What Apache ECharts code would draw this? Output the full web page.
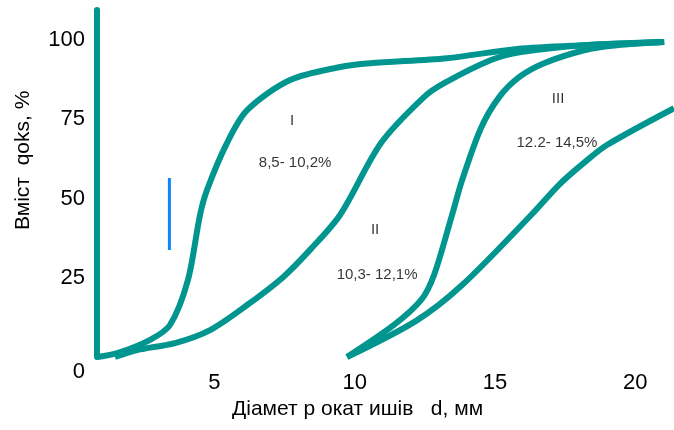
<!DOCTYPE html>
<html>
<head>
<meta charset="utf-8">
<script src="https://cdn.jsdelivr.net/npm/echarts@6/dist/echarts.min.js"></script>
<style>
  html, body { margin: 0; padding: 0; background: #fff; }
  #chart { width: 674px; height: 430px; }
</style>
</head>
<body>
<div id="chart"></div>
<script>
var xTicks = [5, 10, 15, 20];
var yTicks = [0, 25, 50, 75, 100];

// [diameter, content %]
var curveI = [[0.82,0],[1.57,1.3],[2.71,5.4],[3.42,10.1],[4.06,24.3],[4.49,44.8],[4.74,52.7],[5.45,67.5],[6.17,77.9],[7.70,87.4],[9.48,91.5],[10.55,92.7],[13.29,94.3],[15.79,97.2],[18.18,98.4],[21.03,99.4]];
var curveII = [[1.46,0],[2.25,2.2],[3.60,4.4],[4.85,8.5],[6.17,16.4],[7.45,25.2],[8.41,33.8],[9.48,44.8],[10.94,67.5],[12.47,82.0],[13.19,86.4],[14.86,93.7],[15.93,96.2],[18.18,98.4],[21.03,99.4]];
var curveIII = [[9.73,0],[11.40,10.1],[12.37,18.0],[12.83,25.9],[13.47,44.8],[13.83,55.8],[14.50,72.2],[15.15,82.0],[15.86,88.3],[16.75,92.7],[18.18,96.8],[19.35,98.4],[21.03,99.4]];
var curveIV = [[9.73,0],[12.19,11.4],[13.83,22.7],[16.29,44.8],[17.30,54.5],[18.20,61.5],[18.99,66.9],[21.38,78.5]];
var blueMark = [[3.40,56.5],[3.40,33.8]];

var notes = [
  { value: [7.77, 74.4], text: 'I' },
  { value: [7.88, 61.2], text: '8,5- 10,2%' },
  { value: [10.73, 40.1], text: 'II' },
  { value: [10.80, 25.9], text: '10,3- 12,1%' },
  { value: [17.25, 81.4], text: 'III' },
  { value: [17.21, 67.5], text: '12.2- 14,5%' }
];

var teal = '#00968f';
var font = "'Liberation Sans', Arial, sans-serif";

function curve(data) {
  return {
    type: 'line',
    data: data,
    smooth: 0.3,
    symbol: 'none',
    lineStyle: { color: teal, width: 6, cap: 'butt' },
    z: 2
  };
}

var chart = echarts.init(document.getElementById('chart'));
var option = {
  animation: false,
  grid: { left: 97, right: 0, top: 10, bottom: 73 },
  xAxis: {
    type: 'value',
    min: 0.82,
    max: 21.38,
    axisLine: { show: false },
    axisTick: { show: false },
    splitLine: { show: false },
    axisLabel: {
      customValues: xTicks,
      margin: 15,
      color: '#000',
      fontSize: 22,
      fontFamily: font
    }
  },
  yAxis: {
    type: 'value',
    min: 0,
    max: 109.5,
    axisLine: { show: true, lineStyle: { color: teal, width: 6 } },
    axisTick: { show: false },
    splitLine: { show: false },
    axisLabel: {
      customValues: yTicks,
      margin: 12,
      color: '#000',
      fontSize: 22,
      fontFamily: font,
      formatter: function (v) { return v === 0 ? '{z|0}' : String(v); },
      rich: { z: { fontSize: 22, fontFamily: font, color: '#000', padding: [30, 0, 0, 0] } }
    }
  },
  graphic: [
    {
      type: 'text',
      left: 232,
      top: 399,
      style: { text: 'Діамет р окат ишів   d, мм', fill: '#000', font: '21px ' + font }
    },
    {
      type: 'text',
      x: 13,
      y: 230,
      rotation: Math.PI / 2,
      style: { text: 'Вміст  qoks, %', fill: '#000', font: '21px ' + font }
    }
  ],
  series: [
    curve(curveI),
    curve(curveII),
    curve(curveIII),
    curve(curveIV),
    {
      type: 'line',
      data: blueMark,
      symbol: 'none',
      lineStyle: { color: '#0a84ff', width: 3 }
    },
    {
      type: 'scatter',
      symbolSize: 0,
      data: notes.map(function (n) { return { value: n.value, name: n.text }; }),
      label: {
        show: true,
        position: 'inside',
        formatter: function (p) { return p.name; },
        color: '#000',
        fontSize: 15,
        fontFamily: font
      }
    }
  ]
};
chart.setOption(option);
</script>
</body>
</html>
